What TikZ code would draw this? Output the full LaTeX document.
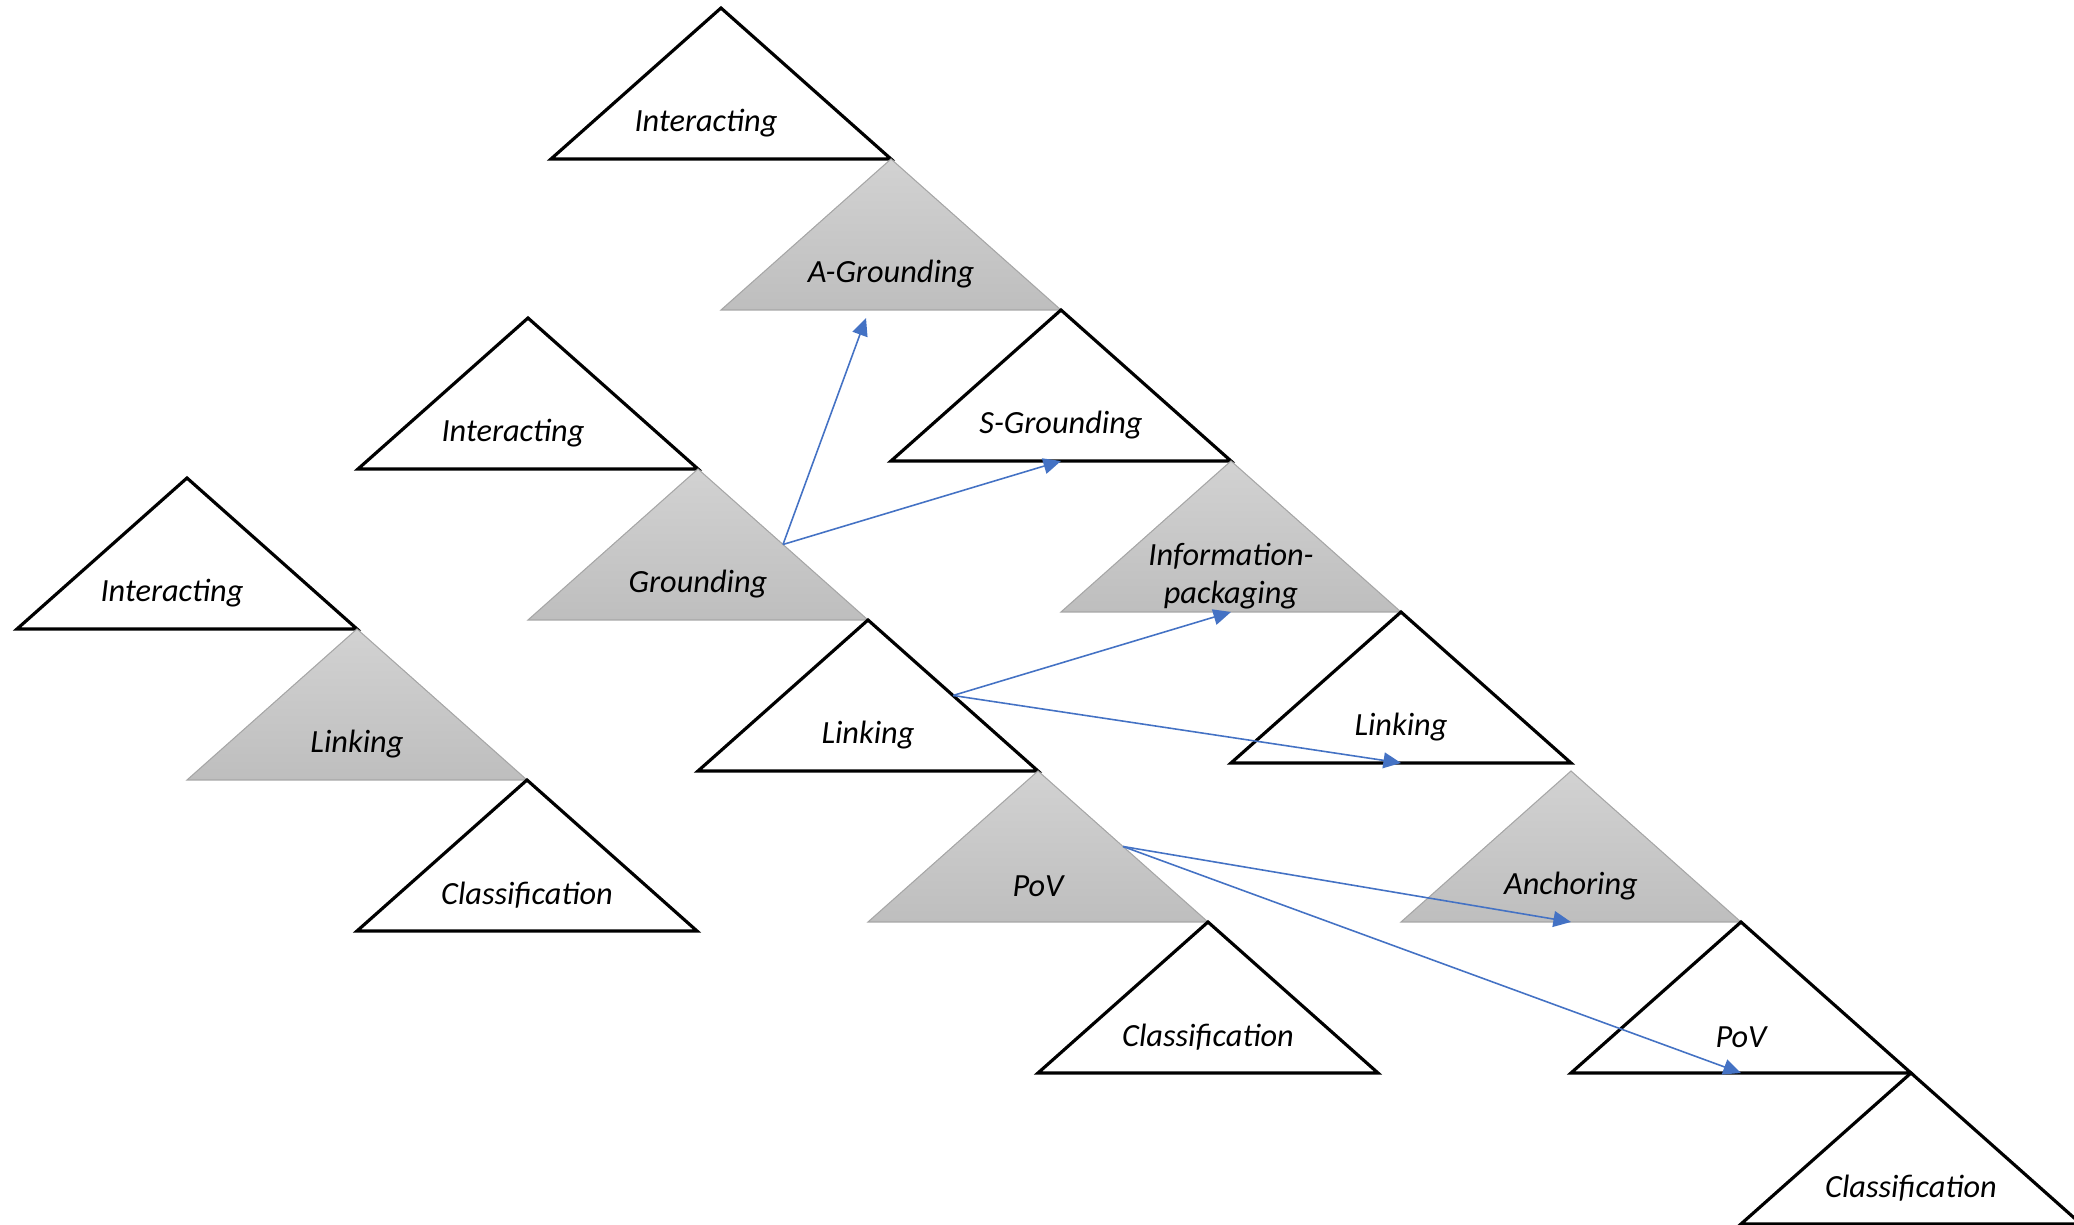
\documentclass[tikz,border=0pt]{standalone}
\usepackage{fontspec}
\setmainfont{Carlito}
\usetikzlibrary{arrows.meta}

\definecolor{linkblue}{HTML}{4472C4}
\definecolor{shadetop}{HTML}{D2D2D2}
\definecolor{shadebot}{HTML}{BEBEBE}
\definecolor{shadeedge}{HTML}{A6A6A6}

\tikzset{
  plain/.style={draw=black, line width=0.9pt, fill=white},
  shaded/.style={draw=shadeedge, line width=0.3pt, top color=shadetop, bottom color=shadebot},
  lbl/.style={font=\fontsize{9.2}{10.8}\selectfont\itshape, align=center, inner sep=0pt},
  link/.style={draw=linkblue, line width=0.45pt, -{Triangle[length=5pt,width=4.5pt]}},
  tri/.pic={
    \path[pic actions] (0,0) coordinate (-apex) -- (-1.7,-1.51) coordinate (-left)
      -- (1.7,-1.51) coordinate (-right) -- cycle;
    \coordinate (-base) at (0,-1.51);
    \coordinate (-side) at (0.85,-0.755);
    \node[lbl] (-text) at (0,-1.15) {#1};
  }
}

\begin{document}
\begin{tikzpicture}
\useasboundingbox (0,0) rectangle (20.74,-12.25);

\pic[plain] (I1) at (1.87,-4.78) {tri={Interacting\hspace*{0.3cm}}};
\pic[shaded] (L1) at (3.57,-6.29) {tri={Linking}};
\pic[plain] (C1) at (5.27,-7.80) {tri={Classification}};

\pic[plain] (I2) at (5.28,-3.18) {tri={Interacting\hspace*{0.3cm}}};
\pic[shaded] (G2) at (6.98,-4.69) {tri={Grounding}};
\pic[plain] (L2) at (8.68,-6.20) {tri={Linking}};
\pic[shaded] (P2) at (10.38,-7.71) {tri={PoV}};
\pic[plain] (C2) at (12.08,-9.22) {tri={Classification}};

\pic[plain] (I3) at (7.21,-0.08) {tri={Interacting\hspace*{0.3cm}}};
\pic[shaded] (A3) at (8.91,-1.59) {tri={A-Grounding}};
\pic[plain] (S3) at (10.61,-3.10) {tri={S-Grounding}};
\pic[shaded] (N3) at (12.31,-4.61) {tri={Information-\\packaging}};
\pic[plain] (L3) at (14.01,-6.12) {tri={Linking}};
\pic[shaded] (An3) at (15.71,-7.71) {tri={Anchoring}};
\pic[plain] (P3) at (17.41,-9.22) {tri={PoV}};
\pic[plain] (C3) at (19.11,-10.73) {tri={Classification}};

\coordinate (AGtip) at (8.66,-3.18);
\draw[link] (G2-side) -- (AGtip);
\draw[link] (G2-side) -- (S3-base);
\draw[link] (L2-side) -- (N3-base);
\draw[link] (L2-side) -- (L3-base);
\draw[link] (P2-side) -- (An3-base);
\draw[link] (P2-side) -- (P3-base);
\end{tikzpicture}
\end{document}
